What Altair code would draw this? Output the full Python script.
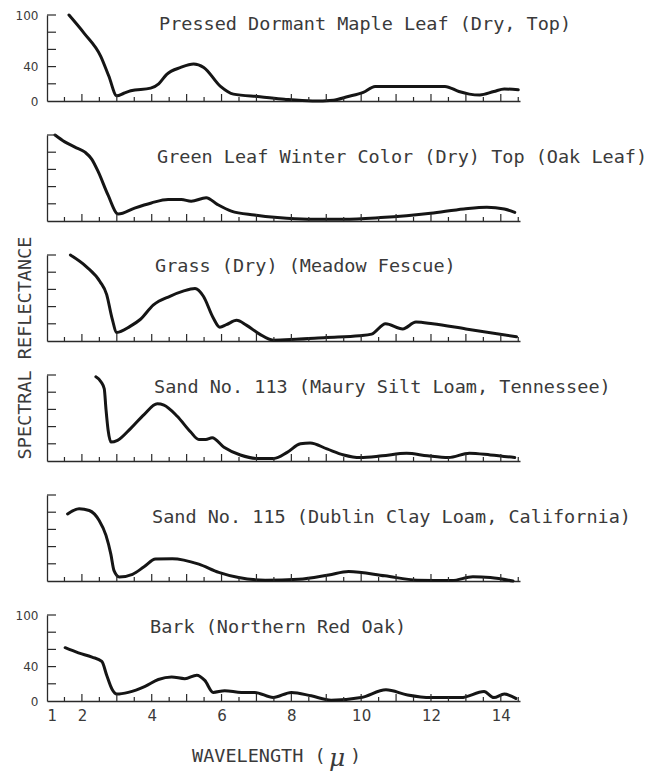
import altair as alt
import pandas as pd

# ---------------- data ----------------
titles = [
    "Pressed Dormant Maple Leaf (Dry, Top)",
    "Green Leaf Winter Color (Dry) Top (Oak Leaf)",
    "Grass (Dry) (Meadow Fescue)",
    "Sand No. 113 (Maury Silt Loam, Tennessee)",
    "Sand No. 115 (Dublin Clay Loam, California)",
    "Bark (Northern Red Oak)",
]

wl1 = [1.63, 2.06, 2.54, 2.77, 3.0, 3.2, 3.4, 3.97, 4.2, 4.43, 4.83, 5.2, 5.49, 5.97, 6.34,
       7.1, 7.8, 8.6, 9.2, 9.6, 10.06, 10.4, 11.0, 12.0, 12.4, 12.8, 13.1, 13.4, 13.8, 14.1, 14.5]
r1 = [100, 79, 52, 29, 6, 9, 12, 15, 20, 31, 39, 43, 39, 17, 8,
      5, 2, 0, 1, 5, 10, 17, 17, 17, 17, 11, 8, 7, 11, 14, 13]

wl2 = [1.23, 1.51, 1.8, 2.09, 2.28, 2.47, 2.75, 3.04, 3.51, 3.99, 4.47, 4.85, 5.13, 5.56, 5.89,
       6.28, 6.94, 7.6, 8.47, 9.5, 10.56, 11.99, 12.94, 13.6, 14.1, 14.4]
r2 = [100, 92, 86, 80, 72, 57, 30, 8, 15, 21, 25, 25, 23, 27, 19,
      11.5, 7, 4, 2, 2, 4, 9, 14, 16, 14, 10]

wl3 = [1.67, 2.14, 2.52, 2.71, 2.86, 3.0, 3.38, 3.67, 4.05, 4.52, 4.9, 5.24, 5.48, 5.76, 5.95,
       6.14, 6.43, 6.71, 7.09, 7.48, 8.14, 9.0, 9.95, 10.3, 10.7, 11.19, 11.57, 12.05, 13.0, 14.45]
r3 = [100, 86, 69, 54, 27, 10, 17, 25, 42, 52, 58, 61, 52, 27, 16,
      19, 24, 18.5, 8, 1, 2, 4, 6, 8, 20, 14, 22, 20, 14, 5]

wl4 = [2.4, 2.55, 2.64, 2.69, 2.75, 2.83, 3.02, 3.4, 3.78, 4.16, 4.35, 4.73, 5.11, 5.35, 5.55,
       5.73, 6.07, 6.54, 7.02, 7.5, 7.88, 8.26, 8.54, 9.02, 9.5, 9.97, 10.6, 11.3, 11.9, 12.5,
       13.1, 13.7, 14.4]
r4 = [98, 92, 84, 60, 36, 22, 24, 38, 54, 66.5, 65, 52, 34, 25, 25,
      27, 16, 7, 3, 3, 10, 20, 21, 14, 7, 4, 6, 9, 6, 4,
      9, 7, 4]

wl5 = [1.59, 1.92, 2.21, 2.49, 2.69, 2.83, 2.92, 3.07, 3.45, 3.78, 4.11, 4.59, 5.35, 5.92, 6.49,
       7.25, 8.21, 9.07, 9.64, 10.68, 11.6, 12.6, 13.2, 13.7, 14.35]
r5 = [78, 84, 82, 70.6, 53, 31, 12, 4.7, 7.8, 16.5, 25.5, 26, 19.6, 10, 4,
      1, 2, 7, 11, 6, 1, 0.5, 5, 4, 0]

wl6 = [1.52, 1.9, 2.29, 2.57, 2.71, 2.86, 3.0, 3.33, 3.81, 4.19, 4.57, 4.95, 5.29, 5.52, 5.76,
       6.09, 6.57, 6.95, 7.48, 8.0, 8.57, 9.14, 10.0, 10.71, 11.33, 12.0, 12.86, 13.52, 13.8,
       14.1, 14.43]
r6 = [62, 56, 51, 46, 30, 14, 8, 10, 17, 25, 28, 26, 30, 24, 10,
      12, 10, 10, 4, 10, 6, 1, 4, 13, 7, 4, 4, 11, 4, 8, 3]

x_tick_labels = [1, 2, 4, 6, 8, 10, 12, 14]
x_major_ticks = [2, 3, 4, 5, 6, 7, 8, 9, 10, 11, 12, 13, 14]
x_minor_ticks = [1.5, 2.5, 3.5, 4.5, 5.5, 6.5, 7.5, 8.5, 9.5, 10.5, 11.5, 12.5, 13.5, 14.5]
y_ticks = [20, 40, 60, 80, 100]
y_tick_labels = [0, 40, 100]

series = [(wl1, r1), (wl2, r2), (wl3, r3), (wl4, r4), (wl5, r5), (wl6, r6)]

# ---------------- layout / style ----------------
W, H = 473, 86
MONO = "DejaVu Sans Mono"
SANS = "DejaVu Sans"
INK = "#151515"
AXIS = "#2a2a2a"
TXT = "#3a3a3a"
title_pos = [(112, 15), (110, 28), (108, 17), (107, 18), (105, 28), (103, 18)]
XT_X, XT_Y = 145, H + 55   # x-axis title position (relative to bottom panel)

xs = alt.Scale(domain=[1, 14.55], nice=False, zero=False)
ys = alt.Scale(domain=[0, 100], nice=False, zero=False)


def text_layer(s, x, y, **kw):
    return alt.Chart(pd.DataFrame({"t": [s]})).mark_text(**kw).encode(
        text="t:N", x=alt.value(x), y=alt.value(y)
    )


def panel(i):
    wl, r = series[i]
    df = pd.DataFrame({"wl": wl, "r": r})
    last = i == len(series) - 1
    show_y = i in (0, len(series) - 1)
    xaxis = alt.Axis(
        grid=False, ticks=False, tickSize=0, domain=True,
        labels=last, values=x_tick_labels, labelFont=SANS, labelFontSize=15,
        labelColor=TXT, labelPadding=7, title=None,
    )
    yaxis = alt.Axis(
        grid=False, ticks=False, tickSize=0, domain=True,
        labels=show_y, values=y_tick_labels, labelFont=SANS, labelFontSize=12,
        labelColor=TXT, labelPadding=9, title=None,
    )
    line = alt.Chart(df).mark_line(
        color=INK, strokeWidth=3, interpolate="monotone", strokeJoin="round", strokeCap="round"
    ).encode(
        x=alt.X("wl:Q", scale=xs, axis=xaxis),
        y=alt.Y("r:Q", scale=ys, axis=yaxis),
    )
    major = alt.Chart(pd.DataFrame({"t": x_major_ticks})).mark_rule(
        color=AXIS, strokeWidth=1.2
    ).encode(x=alt.X("t:Q", scale=xs, axis=xaxis), y=alt.value(H), y2=alt.value(H - 7))
    minor = alt.Chart(pd.DataFrame({"t": x_minor_ticks})).mark_rule(
        color=AXIS, strokeWidth=1.2
    ).encode(x=alt.X("t:Q", scale=xs, axis=xaxis), y=alt.value(H), y2=alt.value(H - 4))
    yt = alt.Chart(pd.DataFrame({"v": y_ticks})).mark_rule(
        color=AXIS, strokeWidth=1.2
    ).encode(y=alt.Y("v:Q", scale=ys, axis=yaxis), x=alt.value(0), x2=alt.value(9))
    tx, ty = title_pos[i]
    ttl = text_layer(titles[i], tx, ty, font=MONO, fontSize=18.5, align="left",
                     baseline="alphabetic", color=TXT)
    layers = [line, major, minor, yt, ttl]
    if i == 2:
        layers.append(text_layer("SPECTRAL REFLECTANCE", -22, H + 7, font=MONO, fontSize=18.5,
                                 align="center", baseline="middle", angle=270, color=TXT))
    if last:
        layers.append(text_layer("WAVELENGTH (", XT_X, XT_Y, font=MONO, fontSize=18.5,
                                 align="left", baseline="middle", color=TXT))
        layers.append(text_layer("\u03bc", XT_X + 137, XT_Y + 2, font="DejaVu Serif",
                                 fontSize=25, fontStyle="italic", align="left",
                                 baseline="middle", color=TXT))
        layers.append(text_layer(")", XT_X + 158, XT_Y, font=MONO, fontSize=18.5,
                                 align="left", baseline="middle", color=TXT))
    return alt.layer(*layers).properties(width=W, height=H)


chart = alt.vconcat(*[panel(i) for i in range(len(series))], spacing=34, bounds="flush").properties(
    padding={"left": 15, "top": 9, "right": 5, "bottom": 5}
).configure_view(stroke=None).configure_axis(
    domainColor=AXIS, domainWidth=1.3
)

chart.save("out.html", embed_options={"renderer": "svg", "actions": False})
